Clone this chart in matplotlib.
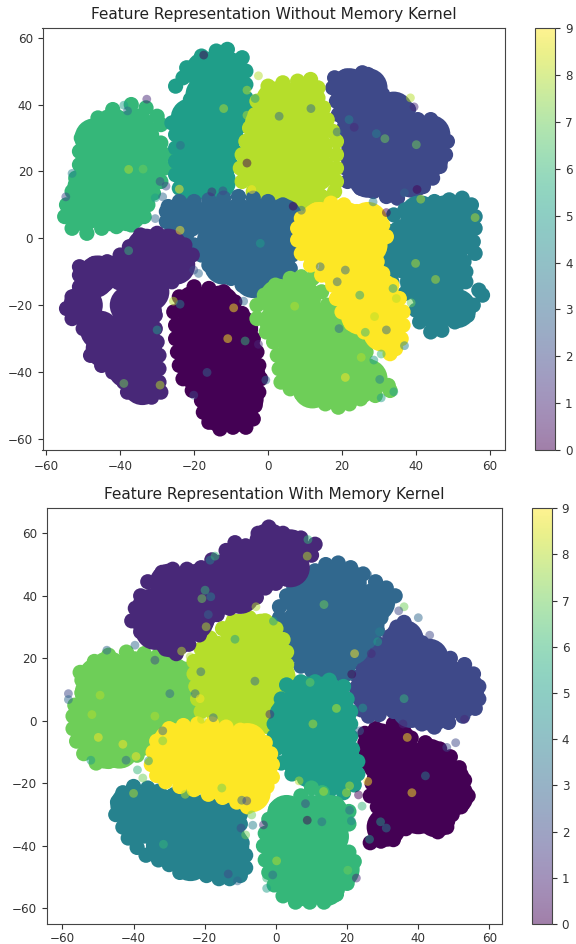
import matplotlib
matplotlib.use("Agg")
import matplotlib.pyplot as plt

W, H = 576, 944

# ---- top panel, values ----
# core = points well inside a cluster, rim = points along its edge
t0_core = [(-20,-20),(-13,-20),(-20,-27),(-13,-27),(-8,-27),(-20,-34),(-13,-34),(-7,-34),(-18,-41),(-11,-41),(-6,-41),(-13,-48),(-6.5,-48),(-13,-52),(-8.5,-52)]
t0_rim = [(-20,-14.5),(-16,-15),(-12,-16),(-9,-19),(-7,-22.5),(-5.5,-26),(-4,-30),(-3,-34),(-2.5,-38),(-2,-42),(-2.5,-46),(-3.5,-50),(-4,-54),(-6,-56.5),(-9.5,-56.5),(-13,-57),(-16,-55),(-17.5,-52),(-18,-48.5),(-20.5,-45.5),(-23,-42),(-24,-38),(-24.5,-34),(-25,-30),(-25,-26),(-25.5,-22),(-24,-17.5)]
t1_core = [(-46,-11),(-47,-12),(-39,-10),(-32,-9),(-25,-8),(-33,-3),(-27,-3),(-50,-20),(-37.5,-20),(-32,-16),(-34,-22),(-45.5,-27.5),(-41,-29),(-37,-26),(-34,-33),(-41,-34),(-44,-33),(-35,-39),(-38,-39),(-34,-44)]
t1_rim = [(-34.5,1),(-30,1.5),(-26,0),(-22.5,-2),(-20.5,-5),(-23,-9),(-26,-13),(-29.5,-15.5),(-30.5,-19),(-30.5,-23),(-30.5,-27),(-30,-31),(-29.5,-35),(-29.5,-39),(-29.5,-43),(-29,-46),(-31.5,-47.5),(-35,-47),(-38,-46),(-39,-43),(-42,-40),(-45,-38),(-48,-35),(-47,-32.5),(-47,-29.5),(-50,-27),(-53,-24),(-54.5,-21),(-53,-17.5),(-51,-14.5),(-51,-11),(-51,-8.5),(-47,-7.5),(-43.5,-7),(-40,-5),(-37.5,-2.5)]
t2_core = [(22,45),(27,45),(23,38),(29,38),(34,38),(25,31),(32,31),(39,31),(44,31),(25,24),(32,24),(39,24),(43.5,24),(27,18),(33,18),(39,18)]
t2_rim = [(25.5,49.5),(21,48.5),(18,48),(17.5,45),(18.5,41),(19,37),(20.5,33),(21,29),(21,25),(21,21),(21.5,17),(25,15),(28.5,14),(32,12.5),(35,12),(38,15),(42,15.5),(44.5,18),(46.5,21.5),(48,25),(48.5,29),(46.5,32.5),(44,35.5),(40.5,35.5),(38,38.5),(34,40.5),(31,43),(29,46),(27,49)]
t3_core = [(-22,6),(-15,6),(-8,6),(-1,6),(4,6),(-14,-1),(-7,-1),(0,-1),(2,-1),(-12,-8),(-5,-8),(2,-8),(-4,-12),(1,-12)]
t3_rim = [(-27,9.5),(-24,11),(-20,11),(-16,11.5),(-12,12),(-8,12.5),(-4,12),(0,11),(4,10),(6.5,7),(7,3),(7,-1),(6.5,-5),(6,-9),(5.5,-13),(3,-15),(0,-16.5),(-3.5,-15.5),(-7,-14),(-10,-12),(-13,-10),(-16,-8),(-18,-5),(-20,-2),(-22,1),(-25,3),(-27.5,5),(-27.5,8)]
t4_core = [(41,7),(48,7),(51,7),(37,0),(44,0),(51,0),(36,-6),(43,-6),(48,-6),(41,-13),(48,-13),(45,-21),(51,-21)]
t4_rim = [(34,7),(37,8.5),(41,10),(45,11),(49,11.5),(52.5,12),(55,10),(56,6.5),(56,3),(55.5,-1),(56,-4.5),(53,-7),(53.5,-10),(53.5,-13),(57,-15.5),(58,-17),(55.5,-20),(54,-23),(50.5,-25),(47,-27.5),(44,-28),(41,-25),(40,-21.5),(41,-18),(37,-16.5),(33.5,-13),(31.5,-9),(30.5,-5.5),(32,-2),(33,2)]
t5_core = [(-17,50),(-11,50),(-17,43),(-11,43),(-21,36),(-14,36),(-10,36),(-20,29),(-14,29),(-20,22),(-14,22),(-20,17),(-14,17)]
t5_rim = [(-11,56.5),(-7,54),(-6,50),(-6,46),(-6,42),(-6,38.5),(-7.5,34),(-8.5,30),(-9,26),(-10,22),(-11,18),(-13,15),(-17,14),(-21,14),(-24,15),(-25,19),(-25,23),(-25,27),(-25,31),(-26,34.5),(-23,38),(-21,41.5),(-25,45.5),(-23,48),(-22,51),(-18,54.5),(-14,56)]
t6_core = [(-42,33),(-36,33),(-47,30),(-46,26),(-40,26),(-33,26),(-47,22),(-46,19),(-40,19),(-33.5,19),(-49,15),(-48,12),(-41,12),(-36,12),(-50,8),(-43,8),(-38,8)]
t6_rim = [(-37,40),(-33,39),(-30,36.5),(-29,34),(-31.5,31),(-29,28.5),(-27.8,25),(-28,21),(-29,17),(-31,13.5),(-32.5,10),(-33.5,6.5),(-37,4),(-41,3.5),(-45,3),(-49,1.5),(-53,3),(-55,6.5),(-54.5,10),(-53,14),(-52,18),(-51,22),(-51,26),(-50.5,30),(-48,33),(-46,36),(-42,38.5)]
t7_core = [(3,-18),(9,-18),(3,-25),(10,-25),(16,-25),(8,-32),(15,-32),(22,-32),(8,-39),(15,-39),(22,-39),(27,-42),(12,-45),(18,-45),(24,-44)]
t7_rim = [(6,-12),(9,-11.5),(12,-12),(14.5,-16),(16,-20),(19,-24),(22,-27.5),(25.5,-30.5),(26.5,-34),(27,-38),(29.5,-41),(32.5,-44),(33,-45.5),(29,-47),(25,-48),(22,-49.5),(19,-50.5),(15.5,-49.5),(12,-48),(9,-46.5),(6,-45),(3.5,-43),(3,-39),(2.5,-35),(1.5,-31),(-0.5,-28),(-3,-24),(-3,-20),(-1,-17),(2,-14)]
t8_core = [(2,41),(8,41),(-1,34),(6,34),(12,34),(-2,27),(5,27),(12,27),(-2,20),(5,20),(13,20),(3,14),(10,14)]
t8_rim = [(0,45.5),(4,46.5),(8,47),(11.5,47.5),(13.5,45),(13.5,42),(15,39),(16,35.5),(17.5,32),(18.5,29),(18.5,25),(18.5,21),(18.5,17),(18,14),(14.5,12.5),(11,10.5),(7,10.5),(3,11),(-1,13),(-4,14),(-7,17),(-7.5,21),(-7,25),(-6,29),(-5,33),(-3.5,37),(-3,41)]
t9_core = [(14,5),(21,5),(27,5),(13,-2),(20,-2),(27,-2),(19,-9),(26,-9),(23,-16),(30,-16),(25,-23),(31,-23),(31,-28)]
t9_rim = [(9,6),(13,8.5),(17,10.5),(20.5,10),(24,8),(28,6.5),(31,4),(32,0.5),(29.5,-3),(29.5,-7),(31,-10.5),(33.5,-14),(35.5,-18),(36.5,-22),(36.5,-26),(36,-30),(34.5,-33),(33,-34.5),(29.5,-31),(26,-28),(22.5,-25.5),(20,-22),(18.5,-18),(17.5,-14),(14.5,-11),(11.5,-8),(9,-4.5),(8,-0.5),(8,3)]
# stray points: x, y, class
t_strays = [(-17.4,54.8,0),(-2.6,48.6,8),(-5.7,44.3,8),(-3.5,41.8,5),(-32.8,41.6,1),(-39,39.8,5),(-38,38.1,3),(-53,19.4,4),(-54.7,12.4,2),(-29.2,17,2),(-27.6,15.6,2),(-30.5,12.1,5),(-28.5,12.4,3),(-30.5,5.9,3),(-23.8,2.4,9),(-24,14.7,9),(-15.2,13.9,1),(-12.2,14.2,2),(-4.4,14.6,9),(-5.7,22.5,0),(3,36.5,3),(-23.7,27.8,3),(-12,38.8,8),(-5.7,36.8,8),(-33.8,20.7,7),(-37.7,20.6,8),
            (11.6,38.8,3),(23.3,33.2,1),(21.9,35.5,4),(29.3,31.3,4),(31.6,29.8,7),(40.1,28,7),(38.5,42,8),(39.5,39.3,1),(40.3,14.6,0),(36.9,13.6,3),(28.4,10.9,4),(32,7.7,0),(41.3,11.7,8),(6.8,9.6,0),(9,8.4,3),(56,6.2,8),(18.7,31.8,3),
            (-9.3,-20.8,9),(-6.6,-18.8,3),(-20.1,-9.5,2),(-18.8,-10.5,3),(-30,-27.4,5),(-29.2,-43.9,8),(-25.6,-18.8,8),(-23.8,-19.7,4),(-16.5,-40.1,3),(-20.1,-46.9,2),(-6.2,-30.7,6),(-10.9,-30,9),(-2.6,-31.7,1),(-0.6,-42.4,3),(-39,-43.4,7),(-37.7,-3.7,6),(-2.1,-1.5,5),
            (39.9,-7.5,8),(45.3,-12.3,8),(38.7,-19.3,7),(36.9,-32.1,4),(30.6,-34.6,6),(28.6,-36.4,5),(30.2,-42.2,4),(34,-45.9,5),(30.6,-47.7,5),(25.2,-35.6,8),(20.9,-41.6,9),(7.2,-20.3,8),(19.2,-27,3),(24.8,-17,5),(32,-27.4,3),(26.3,-28.1,6),(18.7,-13,3),(14.1,-8.5,3),(20.9,-9.5,3),(33.8,-15,5),(34.7,-18,8),(28.8,-23.4,8)]

# ---- bottom panel ----
b0_core = [(29,-7),(34,-7),(29,-12),(36,-12),(43,-12),(31,-19),(38,-19),(45,-19),(49,-19),(33,-26),(40,-26),(47,-26),(50,-24),(33,-30),(40,-30),(45,-31),(31,-34)]
b0_rim = [(33,-1),(36,-3.5),(38,-5.5),(42,-7),(46,-9),(49,-11.5),(51.5,-15),(53,-19),(54,-24),(52,-27.5),(49.5,-30),(48,-34),(45.5,-35.5),(42,-33.5),(40,-32),(36.5,-34.5),(33,-38),(29.5,-38.5),(26.5,-39),(28,-35),(29,-31),(28.5,-27.5),(26.5,-24),(27,-20),(27,-15.5),(25,-11),(25,-7),(25,-4),(28,-2.5)]
b1_core = [(-2,57),(4,55),(-9,51),(-3,50),(4,49),(-15,47),(-9,44),(-3,47.5),(-30,44),(-35,36),(-28,37),(-29,26.5),(-34,29),(-22,44),(-16,40),(-10,40.5),(-21,36),(-23,32),(-35,32)]
b1_rim = [(-2,62),(2,60),(7,58.5),(11,56.5),(10,53),(6,50),(4,46),(0,44),(-3,42.5),(-5.5,39.5),(-9,37.5),(-13,36),(-16.5,34),(-19.5,31.5),(-21.5,27.5),(-24.5,24.5),(-28,21.5),(-31,23),(-34,26),(-38,28.5),(-40.5,32),(-39.5,36),(-38,40),(-36,44.5),(-32,47.5),(-29,48.5),(-25,48.5),(-21,49),(-18,51.5),(-14,54.5),(-11.5,57),(-8.5,56),(-5,60)]
b2_core = [(36,26),(29,20),(36,20),(43,20),(28,13),(35,13),(42,13),(49,13),(53,10),(28,7),(35,7),(42,7),(49,7),(52,7),(38,4),(44,3)]
b2_rim = [(36,31.5),(38,28),(41,25),(45,22.5),(49,20),(53,18),(55.5,15),(57,11),(57,7),(56,4),(52.5,1.5),(48.5,-0.5),(44.5,-2),(41,-1),(37.5,0.5),(33,3),(29,2),(26,1.5),(24,3.5),(23.5,7),(22.5,10.5),(23,14),(24,18),(25.5,21.5),(29,24.5),(32,27),(34,30)]
b3_core = [(13,44),(20,44),(8,38),(15,38),(22,38),(28,38),(7,31),(14,31),(21,31),(25,31),(9,24),(16,24),(21,24),(13,18),(17,18)]
b3_rim = [(8,45),(11,48),(14,50),(17.5,50.5),(21,49),(24.5,47),(28,44.5),(31,42.5),(33.5,40),(31,37),(29.5,33),(28.5,29),(26,25.5),(23,22.5),(21,19),(20,15),(16,14),(11,15),(7,17.5),(4.5,21),(3.5,25),(2,29),(1,33),(1,36.5),(3,40),(5,43)]
b4_core = [(-41,-27),(-34,-27),(-27,-27),(-20,-30),(-37,-33),(-30,-33),(-23,-33),(-16,-33),(-14,-32),(-31,-40),(-24,-40),(-17,-40),(-13,-40),(-24,-45),(-17,-45),(-13,-45)]
b4_rim = [(-40,-21),(-36,-21.5),(-33,-22.5),(-29,-24),(-25,-24.5),(-21,-26),(-17,-27),(-13,-28),(-10,-30),(-10,-33),(-11,-36),(-9.5,-39),(-8.5,-43),(-8.5,-47),(-10,-49.5),(-13,-50.5),(-16,-50.5),(-19.5,-49.5),(-23,-48.5),(-27,-48.5),(-30,-46),(-33,-44.5),(-36.5,-43),(-39,-40.5),(-41.5,-37.5),(-43,-34),(-45,-30),(-44.5,-26),(-43,-23)]
b5_core = [(8,8),(14,8),(4,2),(11,2),(17,2),(4,-5),(11,-5),(17,-5),(7,-12),(14,-12),(18,-12),(12,-17),(18,-17)]
b5_rim = [(3,11.5),(7,12.5),(11,12.5),(15,13),(19,11),(20,7),(21,3),(21,-1),(21,-5),(21.5,-9),(23,-13),(23,-17),(22,-20.5),(19,-23),(15,-22.5),(11,-21),(8,-18.5),(4.5,-17),(1.5,-13.5),(0,-9),(-0.5,-5),(-0.5,-1),(0.5,3),(1.5,7)]
b6_core = [(3,-30),(10,-30),(15,-30),(2,-37),(9,-37),(15,-37),(2,-44),(9,-44),(4,-50),(10,-50),(15,-50),(8,-53),(14,-53),(18,-47.5)]
b6_rim = [(3,-27),(7,-24),(10,-21.5),(13,-23),(17,-26.5),(20.5,-29),(20.5,-33),(17.5,-37),(14.5,-41),(17,-41.5),(20.5,-42),(22,-45),(21,-48.5),(20,-52),(17,-55.5),(13.5,-58),(9.5,-58),(5.5,-58),(2,-56),(-0.5,-52.5),(-2,-48.5),(-3,-44.5),(-3.5,-40),(-3,-36),(-2,-31.5),(0,-28)]
b7_core = [(-47,16),(-40,16),(-34,16),(-29,14),(-50,14),(-51,9),(-44,9),(-37,9),(-30,9),(-27,9),(-52,2),(-45,2),(-38,2),(-31,2),(-27,2),(-51,-3),(-51,-5),(-44,-5),(-38,-5),(-48,-9),(-47,-9),(-44,-9)]
b7_rim = [(-37,21.5),(-33,21),(-29,19),(-25.5,16.5),(-23.5,13),(-23.5,9),(-26,5),(-29,1),(-33,-4),(-35.5,-7.5),(-39,-11),(-43,-12.5),(-47,-13),(-50.5,-13.5),(-54,-10.5),(-56,-6.5),(-57,-2.5),(-57,1.5),(-56.5,5),(-54.5,9),(-54.5,13),(-55,15.5),(-51,19),(-47,21),(-42,22)]
b8_core = [(-10,28),(-4,28),(-17,21),(-10,21),(-3,21),(-18,14),(-11,14),(-4,14),(0,14),(-17,7),(-10,7),(-3,7),(0,7),(-14,2),(-7,2),(-2,2)]
b8_rim = [(-7.5,33),(-3,32),(0,29.5),(2,26),(3,22),(3,18),(2.5,14),(3,10),(3,6),(1,3),(-2,1),(-5,-1),(-9,0),(-13,0.5),(-17,1.5),(-21,3),(-22,7),(-22.5,11),(-23,15),(-23,19),(-21,23),(-18.5,26.5),(-15,29.5),(-12,32)]
b9_core = [(-29,-7),(-22,-7),(-15,-7),(-8,-7),(-30,-14),(-23,-14),(-16,-14),(-9,-14),(-5,-14),(-21,-17),(-14,-20),(-7,-20),(-7,-23)]
b9_rim = [(-30,-2.5),(-26,-1.5),(-22,-1),(-18,-1),(-14,-2),(-10,-3),(-6,-4.5),(-3,-7),(-1.5,-10.5),(-1,-14),(-1,-18),(-2.5,-21),(-5,-24),(-8,-27.5),(-11,-26),(-15,-24.5),(-19,-23.5),(-23,-22),(-27,-21),(-31,-19.5),(-33.5,-17.5),(-35,-14),(-34.5,-10),(-33.5,-6.5)]
b_strays = [(-19,34,3),(-19.9,41.8,6),(-18.3,39.7,4),(-20.8,39.1,7),(-18.5,51.4,4),(-17.1,52.7,6),(-5.4,38.8,1),(-5.6,36.5,8),(-0.7,31.9,5),(-19.6,30.1,8),(-26.5,22.3,8),(-24.1,20.5,8),(-47.5,22.6,3),(-39.6,24.2,3),(-34,19.4,2),(-58.3,8.7,2),(-58.3,6.8,3),(-22.7,8.7,3),(-21.1,15.7,3),(-5.9,12.7,3),(-11.5,26.1,5),(1.9,36.5,3),(-49.4,8.2,8),(-51.7,2,8),(-34,1.5,8),(-29.8,8.7,3),(-21.3,7.1,9),
            (9,58,6),(8.8,52.7,8),(13.5,37.2,7),(36,36.5,7),(34.5,35.2,2),(40,33,3),(43.2,27.4,2),(25.8,46.8,3),(28.6,25.3,5),(29.1,28.5,4),(26.8,21.5,1),(21.3,14.9,0),(22.1,21.5,9),(9.6,12.3,7),(17,3.9,6),(36,7.1,6),(24.4,4.1,5),
            (-43,-7.5,9),(-52,-12.6,5),(-50.8,-9.6,7),(-49.9,-5.3,9),(-42.1,-12.6,3),(-39.3,-11.4,9),(-38.9,-15.7,6),(-37.4,-18.3,7),(-35.8,-12.8,5),(-31.8,-3.2,3),(-31.8,-6.4,7),(-31.6,-39.5,6),(-40,-23.2,8),(-25.5,-23.5,8),(-15.2,-21.5,7),(-9.6,-25.4,3),(-8.2,-25.6,2),(-6.8,-30.1,7),(-6.5,-33.4,4),(-3.5,-33.3,1),(-9.8,-34.3,2),(-8.5,-36.5,7),(-13.4,-49,2),(-10.8,-51.2,3),(-2.6,-53.6,5),(-2.6,-50.3,6),(-0.9,-49.3,3),(0.2,-44.8,8),(-17.6,1,3),(-20.9,0.5,8),(-1.7,2.1,1),
            (50.5,-7,2),(48,-8.5,2),(24.2,-27.3,6),(23.2,-23.7,0),(25.8,-19.4,9),(38.2,-23,9),(36.9,-5.3,9),(13.4,-22.6,8),(6.5,-19.2,8),(20.7,-20.8,8),(19.8,-23,8),(17,4,8),(10.4,-1,8),(8.8,-31.8,0),(12.9,-32.3,3),(21.2,-32,4),(20.7,-28.6,3),(8.3,-26.5,2),(26.3,-37.9,5),(29.4,-32.3,5),(31,-34.3,4),(22.6,-50.3,1),(53,0.5,1),(35.7,-1,1),(23.5,-3.2,3),(42,-17.6,4),(20.2,-47.8,7)]

# draw order of the classes, bottom layer first
t_clusters = [(6,t6_core,t6_rim),(5,t5_core,t5_rim),(2,t2_core,t2_rim),(8,t8_core,t8_rim),(3,t3_core,t3_rim),(4,t4_core,t4_rim),(1,t1_core,t1_rim),(0,t0_core,t0_rim),(7,t7_core,t7_rim),(9,t9_core,t9_rim)]
b_clusters = [(7,b7_core,b7_rim),(4,b4_core,b4_rim),(0,b0_core,b0_rim),(2,b2_core,b2_rim),(3,b3_core,b3_rim),(8,b8_core,b8_rim),(5,b5_core,b5_rim),(6,b6_core,b6_rim),(1,b1_core,b1_rim),(9,b9_core,b9_rim)]


def px_axes(left, top, right, bottom):
    # pixel box from the top-left corner to a figure fraction box
    return [left / W, 1 - bottom / H, (right - left) / W, (bottom - top) / H]


def draw_panel(box, cbox, clusters, strays, xlim, ylim, title, xpad):
    ax = fig.add_axes(px_axes(*box))
    for label, core, rim in clusters:
        for pts, size in ((core, 800), (rim, 120)):
            ax.scatter([p[0] for p in pts], [p[1] for p in pts], c=[label] * len(pts),
                       cmap='viridis', vmin=0, vmax=9, s=size, linewidths=0)
    sc = ax.scatter([p[0] for p in strays], [p[1] for p in strays], c=[p[2] for p in strays],
                    cmap='viridis', vmin=0, vmax=9, s=40, alpha=0.5, linewidths=0)
    ax.set_xlim(*xlim)
    ax.set_ylim(*ylim)
    ax.set_xticks([-60, -40, -20, 0, 20, 40, 60])
    ax.set_yticks([-60, -40, -20, 0, 20, 40, 60])
    ax.tick_params(labelsize=8.6, colors='#333333', length=3.5)
    ax.tick_params(axis='x', pad=xpad)
    ax.set_title(title, fontsize=11.1, color='#222222', pad=6.5)
    for s in ax.spines.values():
        s.set_color('#444444')
    cax = fig.add_axes(px_axes(*cbox))
    cb = fig.colorbar(sc, cax=cax)
    cb.set_ticks(range(10))
    cb.ax.tick_params(labelsize=8.6, colors='#333333', length=3.5)
    cb.outline.set_edgecolor('#444444')


fig = plt.figure(figsize=(W / 100, H / 100), dpi=100)
draw_panel((42.5, 28.3, 504.7, 450), (534.7, 28.3, 555.3, 450), t_clusters, t_strays,
           (-61, 64), (-63.3, 62.8), 'Feature Representation Without Memory Kernel', 3.5)
draw_panel((46.7, 508.3, 502.3, 924), (531.7, 508.3, 552, 924), b_clusters, b_strays,
           (-64.4, 63.6), (-65, 68), 'Feature Representation With Memory Kernel', 2)
fig.savefig('out.png', dpi=100)
